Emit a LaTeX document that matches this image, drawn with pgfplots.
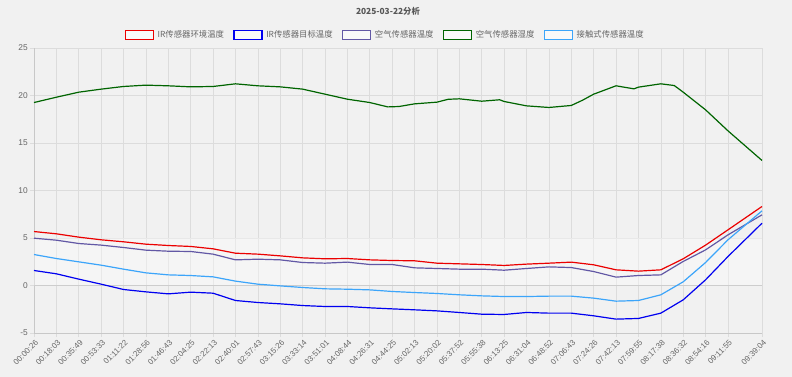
\documentclass[border=0pt]{standalone}
\usepackage{pgfplots}
\pgfplotsset{compat=1.18}
\usepackage{pgfplotstable}
\usepackage{fontspec}
\setmainfont{Liberation Sans}
\newfontfamily\cjk{Noto Sans CJK SC}
\definecolor{bgcol}{RGB}{241,241,241}
\definecolor{gridcol}{RGB}{220,220,220}
\definecolor{axcol}{RGB}{200,200,200}
\definecolor{txtcol}{RGB}{102,102,102}
\definecolor{sred}{RGB}{235,0,0}
\definecolor{sblue}{RGB}{0,0,240}
\definecolor{spurple}{RGB}{98,88,165}
\definecolor{sgreen}{RGB}{0,100,0}
\definecolor{slblue}{RGB}{60,165,250}

\pgfplotstableread{
x red blue purple lb
0 5.68 1.58 4.98 3.26
1 5.44 1.23 4.77 2.84
2 5.09 0.67 4.42 2.49
3 4.81 0.14 4.25 2.14
4 4.60 -0.42 4.00 1.72
5 4.35 -0.67 3.72 1.33
6 4.21 -0.88 3.61 1.12
7 4.11 -0.70 3.58 1.05
8 3.86 -0.81 3.30 0.91
9 3.40 -1.58 2.70 0.46
10 3.30 -1.79 2.77 0.14
11 3.12 -1.93 2.70 -0.04
12 2.91 -2.11 2.42 -0.21
13 2.81 -2.21 2.35 -0.35
14 2.84 -2.21 2.46 -0.39
15 2.70 -2.35 2.21 -0.46
16 2.63 -2.46 2.21 -0.63
17 2.60 -2.56 1.86 -0.74
18 2.35 -2.67 1.79 -0.84
19 2.28 -2.84 1.72 -0.98
20 2.21 -3.02 1.72 -1.09
21 2.11 -3.05 1.61 -1.16
22 2.25 -2.84 1.79 -1.16
23 2.35 -2.91 1.96 -1.12
24 2.46 -2.91 1.89 -1.12
25 2.18 -3.19 1.47 -1.33
26 1.65 -3.54 0.88 -1.65
27 1.51 -3.47 1.05 -1.58
28 1.65 -2.91 1.12 -0.98
29 2.81 -1.51 2.53 0.39
30 4.25 0.60 3.75 2.42
31 5.86 3.05 5.33 4.81
32.52 8.32 6.56 7.44 7.86
}\datatable

\pgfplotstableread{
x y
0 19.26
1 19.82
2 20.35
3 20.67
4 20.95
5 21.09
6 21.02
7 20.91
8 20.95
9 21.23
10 21.02
11 20.91
12 20.67
13 20.14
14 19.61
15 19.26
15.8 18.80
16.3 18.84
17 19.12
18 19.30
18.5 19.60
19 19.65
20 19.40
20.8 19.55
21 19.37
22 18.91
23 18.74
24 18.95
24.5 19.50
25 20.14
26 21.02
26.8 20.70
27 20.88
28 21.23
28.6 21.05
29 20.35
30 18.49
31 16.28
32.52 13.16
}\greentable

\begin{document}
\begin{tikzpicture}
\fill[bgcol] (-34bp,-44bp) rectangle (758bp,333bp);
\path[use as bounding box] (-34bp,-44bp) rectangle (758bp,333bp);
\begin{axis}[
  scale only axis,
  width=728bp, height=285bp,
  xmin=0, xmax=32.52, ymin=-5, ymax=25,
  axis lines=left,
  axis line style={draw=axcol, line width=0.8bp, -},
  grid=major,
  grid style={draw=gridcol, line width=0.6bp},
  ytick={-5,0,5,10,15,20,25},
  extra y ticks={0},
  extra y tick labels={},
  extra y tick style={grid style={draw=axcol!90, line width=1.6bp}, major tick length=0pt},
  xtick={0,1,2,3,4,5,6,7,8,9,10,11,12,13,14,15,16,17,18,19,20,21,22,23,24,25,26,27,28,29,30,31,32.52},
  xticklabels={00:00:26,00:18:03,00:35:49,00:53:33,01:11:22,01:28:56,01:46:43,02:04:25,02:22:13,02:40:01,02:57:43,03:15:26,03:33:14,03:51:01,04:08:44,04:26:31,04:44:25,05:02:13,05:20:02,05:37:52,05:55:38,06:13:25,06:31:04,06:48:52,07:06:43,07:24:26,07:42:13,07:59:55,08:17:38,08:36:32,08:54:16,09:11:55,09:39:04},
  tick align=outside,
  major tick length=4bp,
  tick style={draw=gridcol, line width=0.6bp},
  x tick label style={rotate=45, anchor=north east, font=\fontsize{8}{9}\selectfont, text=txtcol, inner sep=1bp, yshift=-1bp},
  y tick label style={font=\fontsize{8.4}{9}\selectfont, text=txtcol, inner sep=1bp, xshift=-1bp},
  /pgf/number format/assume math mode=true,
  title={\cjk\bfseries 2025-03-22分析},
  title style={at={(0.5,1)}, anchor=south, yshift=23bp, xshift=-10bp, font=\fontsize{8.4}{9}\selectfont, text=txtcol!85!black},
  legend columns=5,
  legend style={at={(0.5,1)}, anchor=south, yshift=7bp, xshift=-13bp, draw=none, fill=none,
    font=\cjk\fontsize{8.4}{9}\selectfont, text=txtcol,
    /tikz/every even column/.append style={column sep=8bp},
    /tikz/every odd column/.append style={column sep=2bp},
    inner sep=0pt, nodes={inner sep=1.5bp}},
  legend image code/.code={\draw[#1, line width=1.3bp, fill=white!60!bgcol] (0bp,-4.5bp) rectangle (28bp,4.5bp);},
  clip=false,
]
\addplot[draw=none, fill=white, fill opacity=0.35, forget plot] coordinates {(0,0) (32.52,0) (32.52,5) (0,5)} -- cycle;
\addplot[sred, line width=1.2bp] table[x=x, y=red] {\datatable};
\addlegendentry{IR传感器环境温度}
\addplot[sblue, line width=1.2bp] table[x=x, y=blue] {\datatable};
\addlegendentry{IR传感器目标温度}
\addplot[spurple, line width=1.2bp] table[x=x, y=purple] {\datatable};
\addlegendentry{空气传感器温度}
\addplot[sgreen, line width=1.2bp] table[x=x, y=y] {\greentable};
\addlegendentry{空气传感器湿度}
\addplot[slblue, line width=1.2bp] table[x=x, y=lb] {\datatable};
\addlegendentry{接触式传感器温度}
\end{axis}
\end{tikzpicture}
\end{document}
